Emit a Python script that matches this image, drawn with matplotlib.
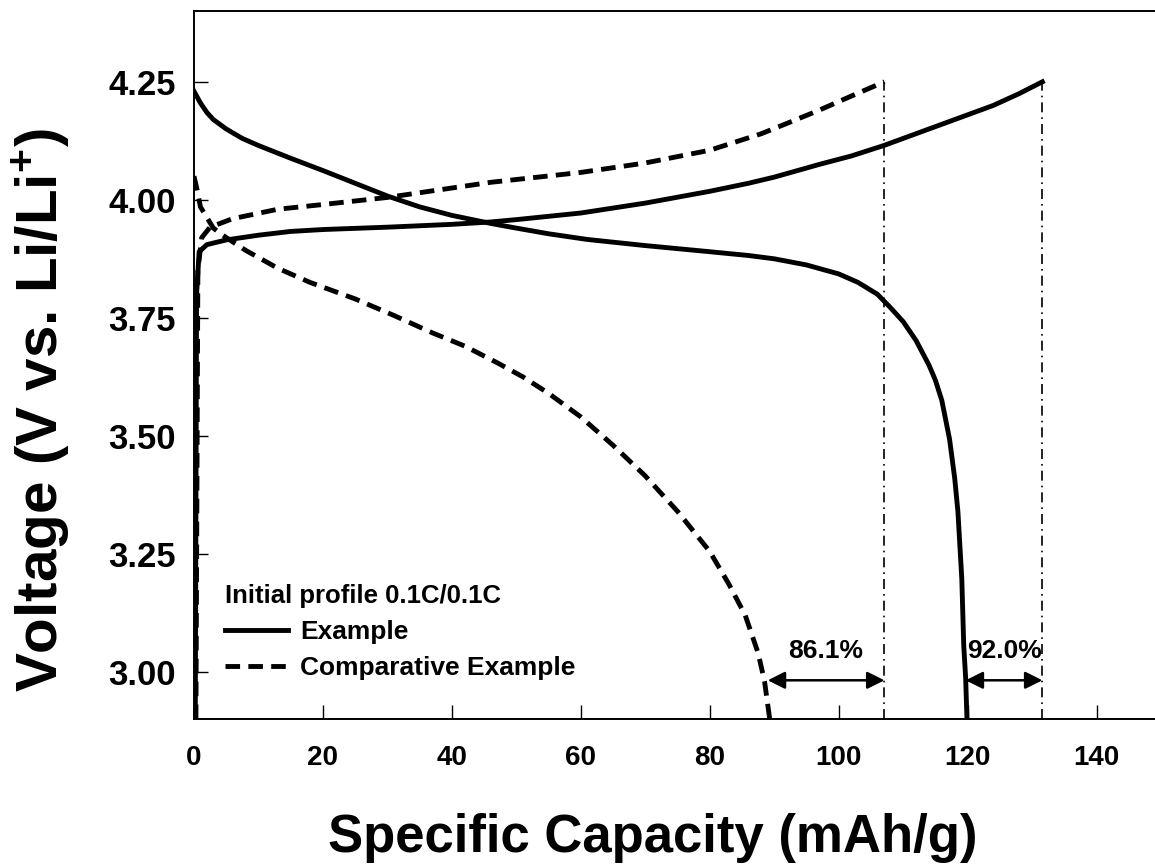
import matplotlib
matplotlib.use("Agg")
import matplotlib.pyplot as plt

plt.rcParams['font.family'] = ['Liberation Sans', 'DejaVu Sans']
plt.rcParams['font.weight'] = 'bold'
plt.rcParams['mathtext.fontset'] = 'custom'
plt.rcParams['mathtext.rm'] = 'Liberation Sans:bold'
plt.rcParams['mathtext.bf'] = 'Liberation Sans:bold'

# Example (solid) - charge and discharge curves
ex_charge_x = [0.2, 0.4, 0.8, 2, 5, 10, 15, 20, 30, 40, 46, 50, 60, 70, 80, 86, 90, 97,
               102, 107, 112, 116, 120, 124, 128, 131.6]
ex_charge_v = [2.9, 3.80, 3.89, 3.905, 3.915, 3.925, 3.933, 3.937, 3.942, 3.948, 3.953,
               3.958, 3.972, 3.993, 4.018, 4.035, 4.048, 4.075, 4.093, 4.115, 4.14, 4.16,
               4.18, 4.20, 4.225, 4.25]
ex_dis_x = [0, 1, 2, 3, 5, 7.5, 10, 15, 20, 25, 30, 35, 40, 46, 50, 55, 61, 70, 80, 86,
            90, 95, 100, 103, 106, 108, 110, 112, 114, 115, 116, 117.2, 118, 118.5,
            119.1, 119.4, 119.7, 119.9]
ex_dis_v = [4.23, 4.205, 4.185, 4.17, 4.15, 4.13, 4.115, 4.088, 4.062, 4.035, 4.008, 3.985,
            3.967, 3.95, 3.94, 3.928, 3.916, 3.903, 3.89, 3.882, 3.875, 3.862, 3.843, 3.825,
            3.80, 3.772, 3.742, 3.702, 3.65, 3.618, 3.575, 3.493, 3.41, 3.339, 3.197, 3.056,
            2.986, 2.9]

# Comparative Example (dashed)
cp_charge_x = [0.3, 0.6, 1.2, 2.5, 6, 13, 20, 30, 40, 46, 50, 60, 70, 80, 88, 92, 97, 102,
               107.1]
cp_charge_v = [2.9, 3.85, 3.92, 3.942, 3.96, 3.98, 3.99, 4.005, 4.025, 4.037, 4.043, 4.058,
               4.078, 4.105, 4.14, 4.162, 4.19, 4.22, 4.25]
cp_dis_x = [0, 0.5, 1, 3, 5, 8, 13, 18, 25, 31, 37, 42, 47, 51, 55, 60, 65, 70, 75, 80,
            83, 85.5, 87.5, 88.5, 89.3]
cp_dis_v = [4.05, 4.02, 3.985, 3.94, 3.92, 3.893, 3.855, 3.825, 3.79, 3.755, 3.718, 3.69,
            3.655, 3.625, 3.59, 3.54, 3.48, 3.415, 3.34, 3.255, 3.185, 3.12, 3.04, 2.98,
            2.9]

# charge end capacities and discharge end capacities for the retention arrows
charge_end = [107.1, 131.6]
discharge_end = [89.0, 119.7]
retention = ['86.1%', '92.0%']

x_ticks = [0, 20, 40, 60, 80, 100, 120, 140]
y_ticks = [3.00, 3.25, 3.50, 3.75, 4.00, 4.25]

fig = plt.figure(figsize=(11.55, 8.65), dpi=100)
ax = fig.add_axes([194 / 1155, 1 - 719 / 865, (1161 - 194) / 1155, 708 / 865])

lw = 3.5
ax.plot(ex_charge_x, ex_charge_v, color='black', lw=lw, label='Example')
ax.plot(ex_dis_x, ex_dis_v, color='black', lw=lw)
ax.plot(cp_charge_x, cp_charge_v, color='black', lw=lw, dashes=(3, 1.7),
        label='Comparative Example')
ax.plot(cp_dis_x, cp_dis_v, color='black', lw=lw, dashes=(3, 1.7))

# vertical dash-dot markers at the end of charge
for xe in charge_end:
    ax.plot([xe, xe], [2.9, 4.25], color='black', lw=1.2, ls=(0, (6, 3, 1, 3)))

# retention arrows
y_arrow = 2.982
for x0, x1, txt in zip(discharge_end, charge_end, retention):
    ax.annotate('', xy=(x1, y_arrow), xytext=(x0, y_arrow),
                arrowprops=dict(arrowstyle='<|-|>', color='black', lw=1.8,
                                mutation_scale=26, shrinkA=0, shrinkB=0))
    ax.text((x0 + x1) / 2, 3.045, txt, ha='center', va='center', fontsize=19,
            fontweight='bold')

ax.set_xlim(0, 150)
ax.set_ylim(2.9, 4.4)
ax.set_xticks(x_ticks)
ax.set_yticks(y_ticks)
ax.set_yticklabels([f'{v:.2f}' for v in y_ticks])
ax.tick_params(axis='both', direction='in', length=10, width=1)
ax.tick_params(axis='y', labelsize=25, pad=13)
ax.tick_params(axis='x', labelsize=20, pad=19)
for s in ax.spines.values():
    s.set_linewidth(1.4)

ax.set_xlabel('Specific Capacity (mAh/g)', fontsize=38, fontweight='bold')
ax.xaxis.set_label_coords(0.474, -0.133)
ax.set_ylabel('Voltage (V vs. Li/Li$^{+}$)', fontsize=42, fontweight='bold')
ax.yaxis.set_label_coords(-0.126, 0.436)

leg = ax.legend(title='Initial profile 0.1C/0.1C', loc='lower left',
                bbox_to_anchor=(0.032, 0.055), frameon=False, alignment='left',
                fontsize=19, title_fontproperties={'size': 18.5, 'weight': 'bold'},
                handlelength=2.4, handletextpad=0.45, labelspacing=0.45,
                borderpad=0, borderaxespad=0)

fig.savefig('out.png', dpi=100)
